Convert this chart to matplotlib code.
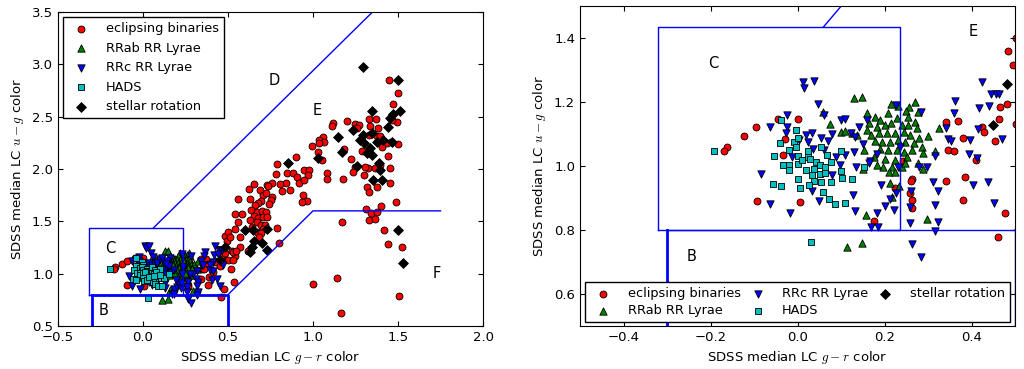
import matplotlib.pyplot as plt
import numpy as np

plt.rcParams["mathtext.fontset"] = "cm"
plt.rcParams["font.size"] = 9.5
plt.rcParams["xtick.direction"] = "in"
plt.rcParams["ytick.direction"] = "in"
plt.rcParams["xtick.top"] = True
plt.rcParams["ytick.right"] = True

# (g-r, u-g) pairs
eclipsing = np.array([
    (-0.162, 1.060), (-0.169, 1.046), (-0.122, 1.093), (-0.095, 1.123), (-0.045, 1.148),
    (0.002, 1.147), (-0.029, 1.085), (-0.033, 1.033), (-0.092, 0.892), (0.005, 0.886),
    (0.175, 0.827), (0.223, 0.930), (0.243, 1.017), (0.263, 0.959), (0.260, 0.954),
    (0.259, 0.915), (0.263, 0.894), (0.263, 0.868), (0.341, 1.136), (0.368, 1.142),
    (0.381, 1.089), (0.347, 1.049), (0.359, 1.047), (0.341, 0.953), (0.386, 0.965),
    (0.380, 0.894), (0.411, 1.019), (0.424, 1.123), (0.428, 1.107), (0.454, 1.077),
    (0.463, 1.148), (0.466, 1.183), (0.482, 1.193), (0.483, 1.360), (0.495, 1.316),
    (0.460, 0.778), (0.476, 0.854),
    (1.449, 2.850), (1.502, 2.723), (1.469, 2.624), (1.202, 2.462), (1.120, 2.436),
    (1.110, 2.411), (1.247, 2.427), (1.273, 2.420), (1.329, 2.478), (1.369, 2.478),
    (1.380, 2.389), (1.335, 2.411), (1.492, 2.449), (1.463, 2.468), (1.257, 2.389),
    (1.375, 2.315), (1.394, 2.315), (1.331, 2.322), (1.502, 2.239), (1.459, 2.261),
    (1.433, 2.245), (1.404, 2.213), (1.286, 2.175), (1.182, 2.191), (1.222, 2.092),
    (1.247, 2.022), (1.237, 1.975), (1.300, 1.943), (1.325, 2.006), (1.365, 2.006),
    (1.394, 2.038), (1.453, 2.006), (1.443, 2.124), (1.306, 2.022), (1.316, 1.825),
    (1.331, 1.783), (1.375, 1.831), (1.453, 1.869), (1.488, 1.688), (1.400, 1.646),
    (1.312, 1.615), (1.341, 1.576), (1.378, 1.592), (1.331, 1.513), (1.365, 1.522),
    (1.169, 1.497), (1.418, 1.417), (1.439, 1.280), (1.525, 1.258), (1.002, 0.901),
    (1.143, 0.959), (1.163, 0.621), (1.508, 0.787), (1.175, 1.901), (1.080, 1.959),
    (1.080, 1.904), (0.992, 2.220), (1.027, 2.166), (1.055, 2.086), (0.898, 2.118),
    (0.849, 1.965), (0.884, 1.965), (0.786, 2.051), (0.780, 1.952), (0.727, 1.850),
    (0.949, 1.994), (0.976, 1.994), (0.973, 1.940), (0.906, 1.927), (0.918, 1.869),
    (0.949, 1.895), (0.841, 1.863), (0.806, 1.857), (0.816, 1.790), (0.865, 1.799),
    (0.757, 1.863), (0.737, 1.838), (0.655, 1.854), (0.624, 1.806), (0.688, 1.799),
    (0.708, 1.752), (0.722, 1.774), (0.757, 1.736), (0.751, 1.704), (0.743, 1.666),
    (0.694, 1.697), (0.678, 1.672), (0.659, 1.656), (0.633, 1.608), (0.669, 1.592),
    (0.698, 1.599), (0.724, 1.592), (0.653, 1.551), (0.678, 1.529), (0.704, 1.538),
    (0.731, 1.538), (0.629, 1.513), (0.673, 1.497), (0.692, 1.465), (0.718, 1.465),
    (0.639, 1.449), (0.708, 1.424), (0.669, 1.401), (0.694, 1.392), (0.684, 1.347),
    (0.790, 1.439), (0.629, 1.710), (0.557, 1.713), (0.541, 1.570), (0.580, 1.570),
    (0.561, 1.497), (0.541, 1.430), (0.502, 1.401), (0.512, 1.354), (0.571, 1.354),
    (0.943, 1.752), (0.963, 1.694), (0.933, 1.688), (1.057, 2.303), (1.037, 2.277),
    (1.065, 2.261), (1.033, 2.252), (0.802, 1.290), (0.522, 1.220), (0.541, 1.169),
    (0.535, 0.924), (0.502, 1.131), (0.527, 1.131), (0.531, 1.210), (0.516, 1.041),
    (0.571, 1.258), (0.545, 1.217), (0.616, 1.217),
])

rrab = np.array([
    (0.131, 1.214), (0.148, 1.215), (0.058, 1.170), (0.074, 1.131), (0.099, 1.107),
    (0.109, 1.109), (0.125, 1.102), (0.137, 1.097), (0.215, 1.193), (0.230, 1.189),
    (0.269, 1.201), (0.257, 1.183), (0.249, 1.171), (0.278, 1.170), (0.160, 1.167),
    (0.179, 1.154), (0.189, 1.144), (0.207, 1.167), (0.228, 1.151), (0.254, 1.154),
    (0.270, 1.139), (0.274, 1.118), (0.255, 1.128), (0.240, 1.128), (0.215, 1.133),
    (0.202, 1.128), (0.183, 1.123), (0.164, 1.133), (0.160, 1.113), (0.170, 1.097),
    (0.187, 1.102), (0.206, 1.102), (0.225, 1.102), (0.244, 1.107), (0.259, 1.097),
    (0.280, 1.086), (0.299, 1.095), (0.325, 1.118), (0.179, 1.079), (0.194, 1.076),
    (0.213, 1.076), (0.232, 1.081), (0.248, 1.076), (0.267, 1.071), (0.286, 1.058),
    (0.152, 1.050), (0.190, 1.052), (0.209, 1.050), (0.228, 1.050), (0.244, 1.045),
    (0.263, 1.050), (0.315, 1.047), (0.289, 1.040), (0.175, 1.027), (0.202, 1.021),
    (0.225, 1.019), (0.251, 1.029), (0.278, 1.008), (0.196, 0.998), (0.217, 0.998),
    (0.240, 0.998), (0.183, 1.003), (0.211, 0.980), (0.225, 0.982), (0.248, 1.008),
    (0.289, 0.990), (0.213, 0.946), (0.234, 0.938), (0.217, 0.902), (0.158, 0.847),
    (0.297, 0.834), (0.148, 0.758), (0.113, 0.746), (0.151, 0.990),
])

rrc = np.array([
    (0.013, 1.261), (0.016, 1.243), (0.038, 1.266), (0.047, 1.194), (0.060, 1.159),
    (-0.023, 1.160), (-0.063, 1.121), (-0.024, 1.121), (-0.026, 1.102), (0.004, 1.081),
    (0.020, 1.097), (0.034, 1.102), (0.025, 1.076), (0.055, 1.086), (0.070, 1.078),
    (0.080, 1.099), (0.101, 1.144), (0.110, 1.147), (0.122, 1.102), (0.129, 1.045),
    (0.110, 1.034), (0.088, 1.027), (0.061, 1.050), (0.036, 1.052), (-0.012, 1.029),
    (0.135, 0.996), (-0.085, 0.974), (-0.064, 0.882), (-0.017, 0.852), (0.050, 0.890),
    (0.033, 0.923), (0.098, 1.003), (0.127, 0.909), (0.132, 0.860), (0.080, 0.971),
    (0.362, 1.204), (0.360, 1.167), (0.341, 1.118), (0.423, 1.261), (0.445, 1.225),
    (0.456, 1.225), (0.463, 1.225), (0.417, 1.182), (0.441, 1.188), (0.471, 1.084),
    (0.414, 1.115), (0.347, 1.084), (0.353, 1.079), (0.396, 1.082), (0.394, 1.039),
    (0.413, 1.024), (0.315, 1.030), (0.284, 1.168), (0.227, 1.190), (0.159, 1.145),
    (0.142, 1.121), (0.151, 1.069), (0.133, 1.092), (0.167, 1.017), (0.182, 1.036),
    (0.297, 0.996), (0.279, 0.996), (0.192, 0.941), (0.182, 0.852), (0.170, 0.810),
    (0.185, 0.810), (0.201, 0.876), (0.212, 0.896), (0.222, 0.863), (0.226, 0.915),
    (0.262, 0.922), (0.259, 0.873), (0.311, 0.951), (0.322, 0.923), (0.315, 0.878),
    (0.258, 0.823), (0.324, 0.824), (0.317, 0.798), (0.263, 0.755), (0.283, 0.715),
    (0.404, 0.941), (0.437, 0.951), (0.451, 0.883), (0.165, 1.010), (0.236, 1.060),
    (0.231, 0.998),
])

hads = np.array([
    (-0.193, 1.047), (-0.039, 1.145), (-0.003, 1.111), (-0.040, 1.071), (-0.054, 1.031),
    (-0.019, 1.050), (-0.008, 1.076), (0.002, 1.086), (-0.003, 1.060), (0.000, 1.031),
    (0.023, 1.048), (0.023, 1.029), (0.029, 1.021), (0.042, 1.011), (0.053, 1.060),
    (0.068, 1.034), (0.101, 1.047), (-0.034, 1.003), (-0.019, 1.004), (-0.020, 0.989),
    (0.002, 1.007), (0.019, 0.987), (0.038, 0.991), (0.052, 1.003), (0.063, 0.998),
    (0.078, 1.014), (0.051, 0.974), (0.039, 0.953), (0.054, 0.951), (0.076, 0.951),
    (0.001, 0.959), (-0.056, 0.945), (-0.039, 0.938), (0.005, 0.931), (0.026, 0.942),
    (0.058, 0.920), (0.072, 0.897), (0.087, 0.881), (0.109, 0.885), (0.103, 0.963),
    (0.125, 0.959), (0.101, 0.984), (0.154, 0.996), (0.032, 0.764), (0.011, 1.019),
    (0.034, 0.972), (0.064, 0.977),
])

rotation = np.array([
    (1.292, 2.978), (1.498, 2.850), (1.345, 2.557), (1.469, 2.522), (1.512, 2.554),
    (1.453, 2.484), (1.443, 2.404), (1.233, 2.373), (1.296, 2.325), (1.345, 2.341),
    (1.149, 2.303), (1.169, 2.166), (0.855, 2.054), (1.257, 2.032), (1.300, 2.245),
    (1.345, 2.134), (1.390, 2.061), (1.355, 1.895), (1.404, 1.895), (1.335, 2.197),
    (1.375, 2.261), (1.414, 2.277), (1.316, 2.150), (1.394, 1.990), (1.502, 1.417),
    (1.527, 1.105), (0.727, 1.226), (0.731, 1.424), (0.600, 1.417), (0.645, 1.417),
    (0.655, 1.315), (0.639, 1.258), (0.629, 1.210), (0.482, 1.255), (0.450, 1.128),
    (1.463, 2.261), (1.276, 2.277), (1.031, 2.102), (0.698, 1.290),
])

classes = [
    ("eclipsing binaries", eclipsing, "o", "r", 25),
    ("RRab RR Lyrae", rrab, "^", "g", 28),
    ("RRc RR Lyrae", rrc, "v", "b", 28),
    ("HADS", hads, "s", "c", 25),
    ("stellar rotation", rotation, "D", "k", 25),
]

# region boundaries
c_box_x = [-0.32, 0.235, 0.235, -0.32, -0.32]
c_box_y = [0.8, 0.8, 1.435, 1.435, 0.8]
b_x = [-0.3, -0.3, 0.5, 0.5]
b_y = [0.5, 0.8, 0.8, 0.5]
d_x = [0.06, 1.35]
d_y = [1.435, 3.5]
f_x = [0.5, 1.0, 1.75]
f_y = [0.8, 1.6, 1.6]


def draw(ax, b_lw):
    for label, pts, marker, color, size in classes:
        ax.scatter(pts[:, 0], pts[:, 1], s=size, marker=marker, c=color,
                   edgecolors="k", linewidths=0.6, label=label)
    ax.plot(c_box_x, c_box_y, color="b", lw=1)
    ax.plot(b_x[:2], b_y[:2], color="b", lw=2)
    ax.plot(b_x[1:], b_y[1:], color="b", lw=b_lw)
    ax.plot(d_x, d_y, color="b", lw=1)
    ax.plot(f_x, f_y, color="b", lw=1)
    ax.set_xlabel("SDSS median LC $g-r$ color")
    ax.set_ylabel("SDSS median LC $u-g$ color")


fig = plt.figure(figsize=(10.24, 3.69), dpi=100)
ax1 = fig.add_axes([58 / 1024, 43 / 369, 425 / 1024, 314 / 369])
ax2 = fig.add_axes([580 / 1024, 43 / 369, 435 / 1024, 320 / 369])

draw(ax1, 2)
ax1.set_xlim(-0.5, 2.0)
ax1.set_ylim(0.5, 3.5)
ax1.set_xticks(np.arange(-0.5, 2.01, 0.5))
ax1.set_yticks(np.arange(0.5, 3.51, 0.5))
for s, x, y in [("C", -0.19, 1.24), ("B", -0.23, 0.645), ("D", 0.775, 2.85),
                ("E", 1.025, 2.555), ("F", 1.725, 1.0)]:
    ax1.text(x, y, s, ha="center", va="center", fontsize=10.5)
leg1 = ax1.legend(loc="upper left", scatterpoints=1, fontsize=9.3, fancybox=False,
                  framealpha=1, edgecolor="k", borderaxespad=0.4, labelspacing=0.5,
                  handletextpad=0.9)
leg1.get_frame().set_linewidth(1.0)

draw(ax2, 1)
ax2.set_xlim(-0.5, 0.5)
ax2.set_ylim(0.5, 1.5)
ax2.set_xticks(np.arange(-0.4, 0.41, 0.2))
ax2.set_yticks(np.arange(0.6, 1.41, 0.2))
for s, x, y in [("C", -0.193, 1.321), ("B", -0.244, 0.717), ("E", 0.404, 1.419)]:
    ax2.text(x, y, s, ha="center", va="center", fontsize=10.5)
leg2 = ax2.legend(loc="lower center", ncol=3, scatterpoints=1, fontsize=9.3,
                  fancybox=False, framealpha=1, edgecolor="k", borderaxespad=0.3,
                  labelspacing=0.3, handletextpad=0.9, columnspacing=0.3)
leg2.get_frame().set_linewidth(1.0)

fig.savefig("out.png", dpi=100)
